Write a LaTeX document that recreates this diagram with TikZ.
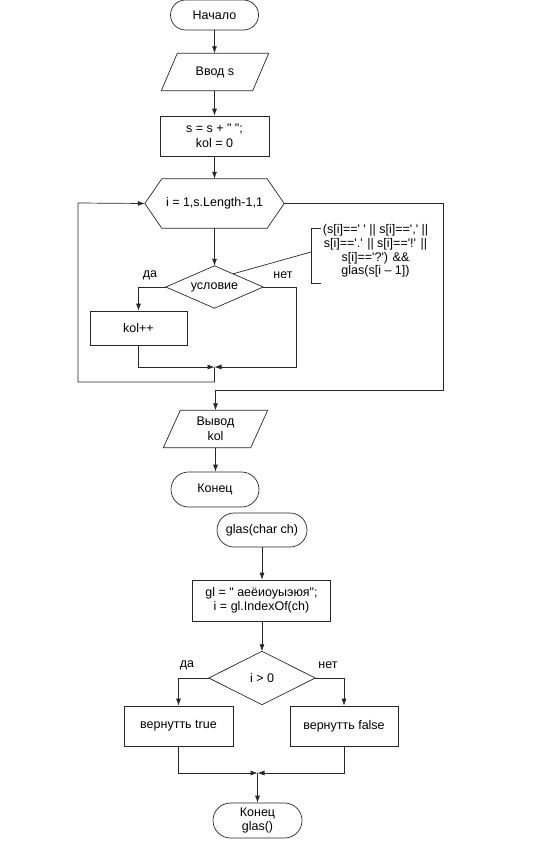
\documentclass[tikz,border=0pt]{standalone}
\usepackage{fontspec}
\setmainfont{Liberation Sans}
\usetikzlibrary{arrows.meta,shapes.misc,calc}
\newcommand{\myq}{\textquotesingle}
\begin{document}
\begin{tikzpicture}[x=1pt,y=-1pt,
  font=\fontsize{12.5}{14.5}\selectfont,
  line/.style={draw=black!85, line width=0.7pt},
  arr/.style={line, -{Latex[length=7pt,width=5pt]}},
  term/.style={rounded rectangle, draw=black!85, line width=0.7pt, inner sep=0pt, align=center},
  proc/.style={rectangle, draw=black!85, line width=0.7pt, inner sep=0pt, align=center},
  txt/.style={inner sep=0pt, align=center},
  lbl/.style={inner sep=0pt}]
\useasboundingbox (0,0) rectangle (559,841);

% ---------- main ----------
\node[term, minimum width=88pt, minimum height=30pt] (start) at (214.5,15) {Начало};

\node[txt, minimum width=91pt, minimum height=37pt] (inp) at (215,72) {Ввод s};
\draw[line] ([xshift=8pt]inp.north west) -- ([xshift=8pt]inp.north east) -- ([xshift=-8pt]inp.south east) -- ([xshift=-8pt]inp.south west) -- cycle;

\node[proc, minimum width=109pt, minimum height=40pt] (init) at (214.5,136) {s = s + \textquotedbl\ \textquotedbl;\\kol = 0};

\node[txt, minimum width=105pt, minimum height=49pt] (loop) at (214.5,203.5) {i = 1,s.Length-1,1};
\coordinate (hexW) at ([xshift=-17pt]loop.west);
\coordinate (hexE) at ([xshift=17pt]loop.east);
\draw[line] (loop.north west) -- (loop.north east) -- (hexE) -- (loop.south east) -- (loop.south west) -- (hexW) -- cycle;

\node[txt, minimum width=97pt, minimum height=42pt] (cond) at (214.5,287) {условие};
\draw[line] (cond.north) -- (cond.east) -- (cond.south) -- (cond.west) -- cycle;

\node[proc, minimum width=97pt, minimum height=34pt] (kol) at (138.5,328) {kol++};

\node[txt, font=\fontsize{12.5}{13.8}\selectfont] (cmt) at (375.5,251) {(s[i]==\myq\ \myq{} || s[i]==\myq,\myq{} ||\\s[i]==\myq.\myq{} || s[i]==\myq!\myq{} ||\\s[i]==\myq?\myq) \&\&\\glas(s[i – 1])};
\draw[line] (321,228) -- (311,228) -- (311,283) -- (321,283);
\coordinate (cmA) at (311,252);
\draw[line] ($(cond.north)!0.38!(cond.east)$) -- (cmA);

\node[lbl] (da1) at (150,275) {да};
\node[lbl] (net1) at (283,275) {нет};

\node[txt, minimum width=87pt, minimum height=37pt] (outp) at (215.5,429) {Вывод\\kol};
\draw[line] ([xshift=8.5pt]outp.north west) -- ([xshift=8.5pt]outp.north east) -- ([xshift=-8.5pt]outp.south east) -- ([xshift=-8.5pt]outp.south west) -- cycle;

\node[term, minimum width=88pt, minimum height=35pt] (end) at (215,489.5) {Конец};

\coordinate (m1) at (214.5,367);
\coordinate (nr) at (296,287);
\coordinate (lb) at (78,203);
\coordinate (ex1) at (443,390);

\draw[arr] (start.south) -- (start.south |- inp.north);
\draw[arr] (inp.south -| init.north) -- (init.north);
\draw[arr] (init.south) -- (loop.north);
\draw[arr] (loop.south) -- (cond.north);
\draw[arr] (cond.west) -| (kol.north);
\draw[arr] (kol.south) |- (m1);
\draw[arr] (cond.east) -- (nr) |- (m1);
\draw[arr] (m1) -- ++(0,15) -| (lb) -- (hexW);
\draw[arr] (hexE) -| (ex1) -| (outp.north);
\draw[arr] (outp.south) -- (outp.south |- end.north);

% ---------- glas ----------
\node[term, minimum width=90pt, minimum height=34pt] (gs) at (262,530) {glas(char ch)};
\node[proc, minimum width=138pt, minimum height=41pt] (gl) at (261.5,600.5) {gl = \textquotedbl\ аеёиоуыэюя\textquotedbl;\\i = gl.IndexOf(ch)};
\node[txt, minimum width=106pt, minimum height=53pt] (c2) at (262,678) {i > 0};
\draw[line] (c2.north) -- (c2.east) -- (c2.south) -- (c2.west) -- cycle;
\node[proc, minimum width=109pt, minimum height=40pt] (rt) at (178.5,726) {вернутть true};
\node[proc, minimum width=108pt, minimum height=40pt] (rf) at (344,726) {вернутть false};
\node[term, minimum width=89pt, minimum height=35pt] (end2) at (257.5,820.5) {Конец\\glas()};
\node[lbl] (da2) at (187,665) {да};
\node[lbl] (net2) at (328,665) {нет};
\coordinate (m2) at (257.5,773);

\draw[arr] (gs.south) -- (gs.south |- gl.north);
\draw[arr] (c2.north |- gl.south) -- (c2.north);
\draw[arr] (c2.west) -| (rt.north);
\draw[arr] (c2.east) -| (rf.north);
\draw[arr] (rt.south) |- (m2);
\draw[arr] (rf.south) |- (m2);
\draw[arr] (m2) -- (end2.north);
\end{tikzpicture}
\end{document}
